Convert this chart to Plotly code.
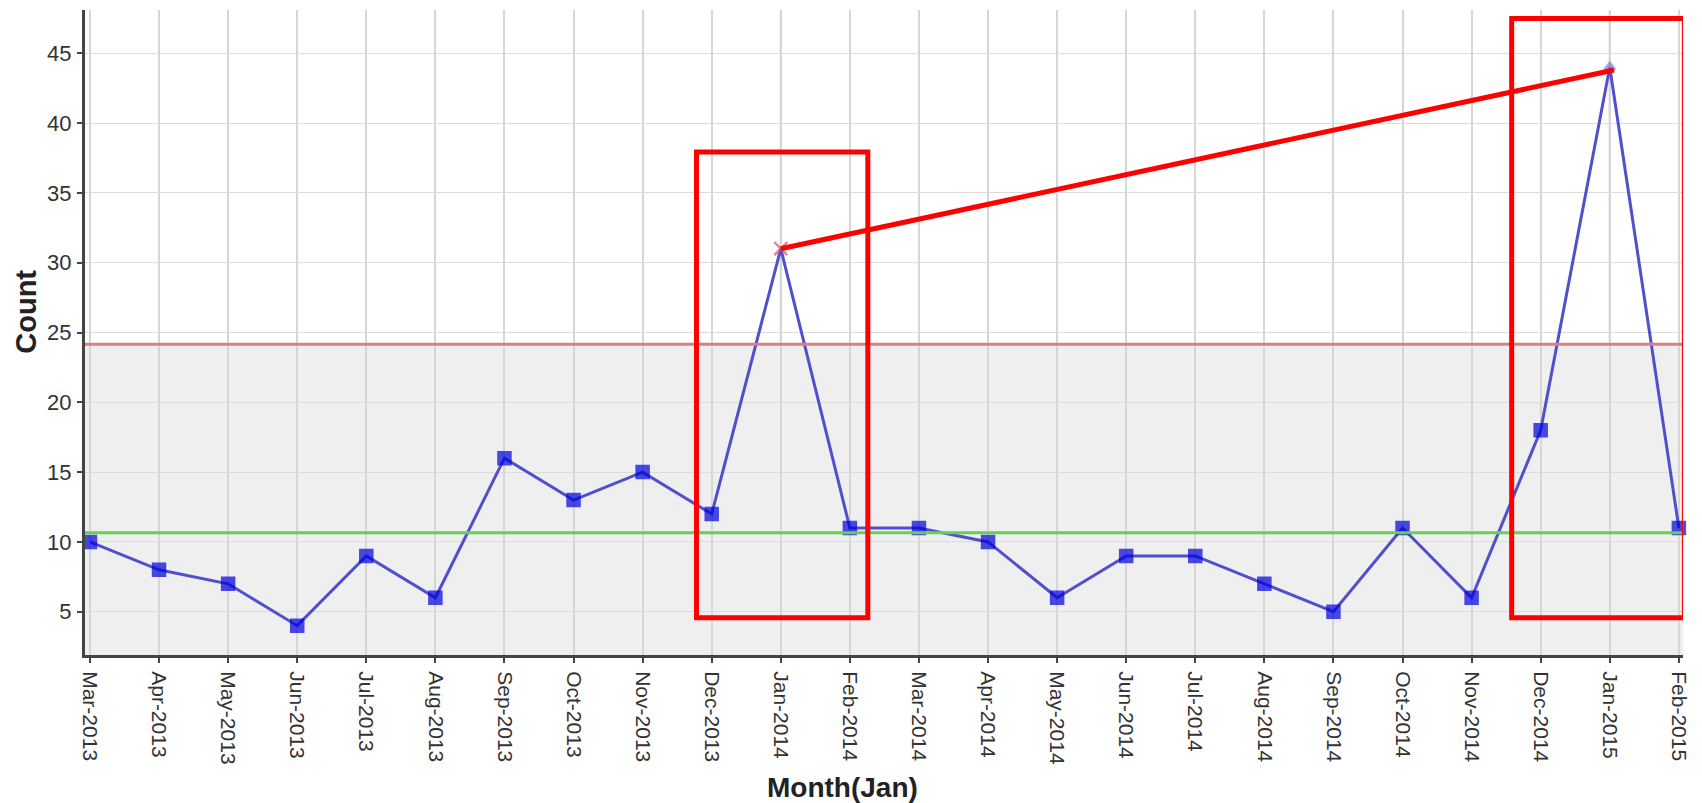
import plotly.graph_objects as go

months = ["Mar-2013", "Apr-2013", "May-2013", "Jun-2013", "Jul-2013", "Aug-2013",
          "Sep-2013", "Oct-2013", "Nov-2013", "Dec-2013", "Jan-2014", "Feb-2014",
          "Mar-2014", "Apr-2014", "May-2014", "Jun-2014", "Jul-2014", "Aug-2014",
          "Sep-2014", "Oct-2014", "Nov-2014", "Dec-2014", "Jan-2015", "Feb-2015"]
counts = [10, 8, 7, 4, 9, 6, 16, 13, 15, 12, 31, 11,
          11, 10, 6, 9, 9, 7, 5, 11, 6, 18, 44, 11]
upper_limit = 24.15
center_line = 10.65
y_ticks = [5, 10, 15, 20, 25, 30, 35, 40, 45]
highlight_months = ["Jan-2014", "Jan-2015"]

idx = list(range(len(months)))
pos = {m: i for i, m in enumerate(months)}

marker_symbols = []
marker_colors = []
marker_sizes = []
for m in months:
    if m == "Jan-2014":
        marker_symbols.append("x-thin")
        marker_colors.append("#e0506a")
        marker_sizes.append(13)
    elif m == "Jan-2015":
        marker_symbols.append("triangle-up")
        marker_colors.append("#7b7bd6")
        marker_sizes.append(9)
    else:
        marker_symbols.append("square")
        marker_colors.append("#0000dd")
        marker_sizes.append(12)

fig = go.Figure()

XMIN, XMAX = -0.072, 23.06
YMIN, YMAX = 1.9, 48.1

# shaded control region
fig.add_shape(type="rect", xref="x", yref="y", x0=XMIN, x1=XMAX, y0=YMIN, y1=upper_limit,
              fillcolor="#efefef", line=dict(width=0), layer="below")

# darker gridlines for January
for m in highlight_months:
    fig.add_shape(type="line", xref="x", yref="paper", x0=pos[m], x1=pos[m], y0=0, y1=1,
                  line=dict(color="#b8b8b8", width=2), layer="below")

# limit lines
fig.add_shape(type="line", xref="x", yref="y", x0=XMIN, x1=XMAX, y0=upper_limit, y1=upper_limit,
              line=dict(color="#d98080", width=3))
fig.add_shape(type="line", xref="x", yref="y", x0=XMIN, x1=XMAX, y0=center_line, y1=center_line,
              line=dict(color="#66d055", width=3))

fig.add_trace(go.Scatter(
    x=idx, y=counts, mode="lines+markers",
    line=dict(color="#5050cc", width=3),
    marker=dict(symbol=marker_symbols, color=marker_colors, size=marker_sizes,
                line=dict(width=2.5, color=marker_colors)),
    showlegend=False, cliponaxis=False,
))

# red annotation boxes and connector
box_spans = [(pos["Jan-2014"] - 1.22, pos["Jan-2014"] + 1.26, 4.57, 37.93),
             (pos["Jan-2015"] - 1.42, pos["Jan-2015"] + 1.08, 4.57, 47.5)]
for x0, x1, y0, y1 in box_spans:
    fig.add_shape(type="rect", xref="x", yref="y", x0=x0, x1=x1, y0=y0, y1=y1,
                  line=dict(color="#ff0000", width=5), fillcolor="rgba(0,0,0,0)")
fig.add_shape(type="line", xref="x", yref="y",
              x0=pos["Jan-2014"], y0=counts[pos["Jan-2014"]],
              x1=pos["Jan-2015"] + 0.06, y1=counts[pos["Jan-2015"]] - 0.2,
              line=dict(color="#ff0000", width=5))

fig.add_annotation(text="<b>Month(Jan)</b>", xref="paper", yref="paper", x=0.474, y=-0.205,
                   showarrow=False, font=dict(family="Liberation Sans, Arial", size=28, color="#222"),
                   xanchor="center", yanchor="middle")
fig.add_annotation(text="<b>Count</b>", xref="paper", yref="paper", x=-0.037, y=0.532,
                   showarrow=False, textangle=-90,
                   font=dict(family="Liberation Sans, Arial", size=29, color="#222"),
                   xanchor="center", yanchor="middle")

fig.update_layout(
    width=1686, height=795,
    margin=dict(l=77, r=11, t=2, b=148),
    paper_bgcolor="white", plot_bgcolor="white",
    font=dict(family="Liberation Sans, Arial", color="#333"),
)
fig.update_xaxes(
    range=[XMIN, XMAX], tickmode="array", tickvals=idx, ticktext=months,
    tickangle=90, tickfont=dict(size=21, color="#333"), ticklabelstandoff=4,
    showgrid=True, gridcolor="#d6d6d6", gridwidth=1.5,
    showline=True, linecolor="#444", linewidth=3,
    ticks="outside", ticklen=5, tickwidth=2, tickcolor="#444", zeroline=False,
)
fig.update_yaxes(
    range=[YMIN, YMAX], tickmode="array", tickvals=y_ticks,
    tickfont=dict(size=22, color="#333"), ticklabelstandoff=1,
    showgrid=True, gridcolor="#dcdcdc", gridwidth=1,
    showline=True, linecolor="#444", linewidth=3,
    ticks="outside", ticklen=5, tickwidth=2, tickcolor="#444", zeroline=False,
)

fig.write_html("out.html")
